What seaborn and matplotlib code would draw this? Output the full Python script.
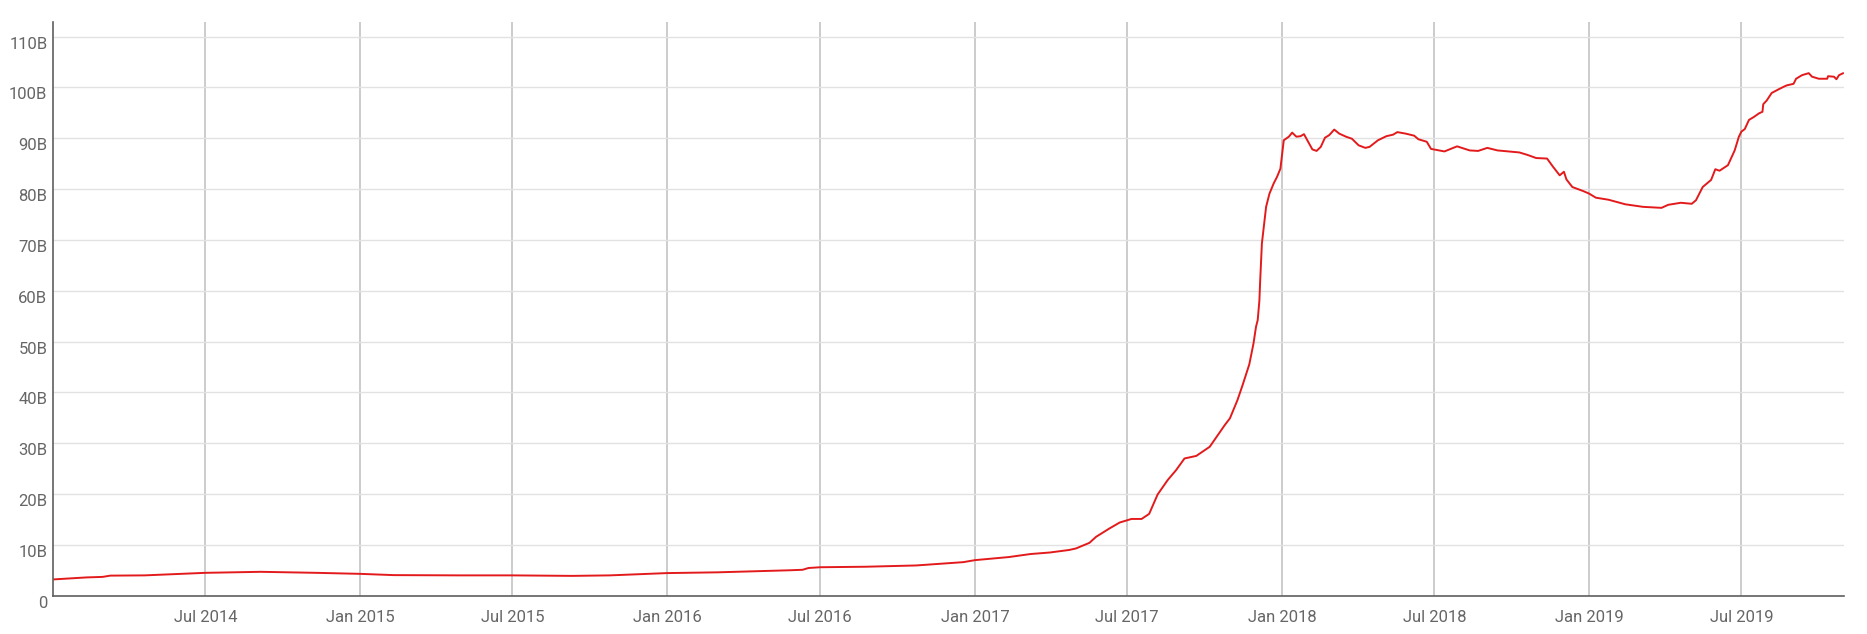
import pandas as pd
import matplotlib
matplotlib.use("Agg")
import matplotlib.pyplot as plt
import matplotlib.transforms as mtransforms
import seaborn as sns

# values (billions)
dates = [
    "2014-01-01", "2014-02-10", "2014-03-01", "2014-03-10", "2014-04-20", "2014-05-25",
    "2014-07-01", "2014-09-05", "2014-11-10", "2015-01-01", "2015-02-10", "2015-05-01",
    "2015-07-01", "2015-09-10", "2015-10-25", "2016-01-01", "2016-03-01", "2016-05-25",
    "2016-06-10", "2016-06-17", "2016-07-01", "2016-08-24", "2016-10-23", "2016-12-18",
    "2017-01-01", "2017-02-10", "2017-03-08", "2017-03-31", "2017-04-23", "2017-05-01",
    "2017-05-17", "2017-05-25", "2017-06-10", "2017-06-22", "2017-07-06", "2017-07-18",
    "2017-07-27", "2017-08-06", "2017-08-18", "2017-08-28", "2017-09-07", "2017-09-21",
    "2017-10-07", "2017-10-25", "2017-10-31", "2017-11-09", "2017-11-15", "2017-11-23",
    "2017-11-28", "2017-12-01", "2017-12-03", "2017-12-05", "2017-12-06", "2017-12-08",
    "2017-12-13", "2017-12-17", "2017-12-22", "2017-12-26", "2017-12-30", "2018-01-03",
    "2018-01-09", "2018-01-13", "2018-01-18", "2018-01-23", "2018-01-27", "2018-01-31",
    "2018-02-06", "2018-02-11", "2018-02-16", "2018-02-21", "2018-02-26", "2018-03-04",
    "2018-03-10", "2018-03-18", "2018-03-25", "2018-04-02", "2018-04-10", "2018-04-15",
    "2018-04-25", "2018-05-05", "2018-05-13", "2018-05-18", "2018-05-28", "2018-06-07",
    "2018-06-12", "2018-06-22", "2018-06-27", "2018-07-13", "2018-07-28", "2018-08-12",
    "2018-08-22", "2018-09-02", "2018-09-14", "2018-10-10", "2018-10-20", "2018-10-30",
    "2018-11-12", "2018-11-19", "2018-11-27", "2018-12-02", "2018-12-05", "2018-12-12",
    "2018-12-25", "2019-01-01", "2019-01-09", "2019-01-24", "2019-02-13", "2019-03-06",
    "2019-03-28", "2019-04-05", "2019-04-20", "2019-05-03", "2019-05-08", "2019-05-16",
    "2019-05-26", "2019-05-31", "2019-06-05", "2019-06-15", "2019-06-23", "2019-06-28",
    "2019-07-01", "2019-07-05", "2019-07-10", "2019-07-16", "2019-07-22", "2019-07-26",
    "2019-07-27", "2019-07-31", "2019-08-06", "2019-08-14", "2019-08-20", "2019-08-24",
    "2019-09-01", "2019-09-04", "2019-09-11", "2019-09-19", "2019-09-23", "2019-10-01",
    "2019-10-11", "2019-10-12", "2019-10-19", "2019-10-22", "2019-10-25", "2019-10-30",
]
values = [
    3.2, 3.6, 3.7, 3.95, 4.0, 4.25,
    4.5, 4.7, 4.5, 4.3, 4.05, 4.0,
    4.0, 3.9, 4.0, 4.45, 4.6, 5.0,
    5.1, 5.45, 5.6, 5.7, 5.95, 6.6,
    7.0, 7.6, 8.2, 8.5, 9.0, 9.3,
    10.4, 11.6, 13.25, 14.4, 15.1, 15.1,
    16.1, 19.9, 22.75, 24.7, 27.0, 27.5,
    29.3, 33.6, 34.9, 38.5, 41.4, 45.5,
    49.6, 52.9, 54.2, 58.0, 62.1, 69.3,
    76.5, 79.1, 81.1, 82.4, 84.0, 89.6,
    90.3, 91.1, 90.3, 90.4, 90.8, 89.6,
    87.8, 87.5, 88.3, 90.1, 90.6, 91.7,
    90.9, 90.3, 89.9, 88.6, 88.1, 88.3,
    89.6, 90.4, 90.7, 91.2, 90.9, 90.5,
    89.8, 89.3, 87.9, 87.4, 88.4, 87.6,
    87.5, 88.1, 87.6, 87.2, 86.7, 86.1,
    86.0, 84.4, 82.7, 83.4, 81.9, 80.4,
    79.6, 79.1, 78.3, 77.9, 77.0, 76.5,
    76.3, 76.9, 77.3, 77.1, 77.8, 80.4,
    81.8, 83.9, 83.6, 84.7, 87.6, 90.3,
    91.3, 91.8, 93.6, 94.2, 94.9, 95.2,
    96.7, 97.4, 98.9, 99.6, 100.1, 100.4,
    100.7, 101.7, 102.4, 102.8, 102.1, 101.7,
    101.7, 102.2, 102.1, 101.6, 102.4, 102.8,
]

tick_dates = ["2014-07-01", "2015-01-01", "2015-07-01", "2016-01-01", "2016-07-01",
              "2017-01-01", "2017-07-01", "2018-01-01", "2018-07-01", "2019-01-01",
              "2019-07-01"]
tick_labels = ["Jul 2014", "Jan 2015", "Jul 2015", "Jan 2016", "Jul 2016", "Jan 2017",
               "Jul 2017", "Jan 2018", "Jul 2018", "Jan 2019", "Jul 2019"]
y_ticks = [0, 10, 20, 30, 40, 50, 60, 70, 80, 90, 100, 110]
y_labels = ["0"] + [f"{v}B" for v in y_ticks[1:]]

df = pd.DataFrame({"date": pd.to_datetime(dates), "value": values})

sns.set_theme(style="white")
plt.rcParams['font.family'] = ['Roboto', 'DejaVu Sans']

fig = plt.figure(figsize=(18.67, 6.34), dpi=100)
ax = fig.add_axes([0.0284, 0.0604, 0.9593, 0.9044])

sns.lineplot(data=df, x="date", y="value", ax=ax, color="#e31a1c", linewidth=1.4)

ax.set_xlim(pd.Timestamp("2014-01-01"), pd.Timestamp("2019-10-31"))
ax.set_ylim(0, 112.8)
ax.set_xticks(pd.to_datetime(tick_dates))
ax.set_xticklabels(tick_labels)
ax.set_yticks(y_ticks)
ax.set_yticklabels(y_labels)
ax.set_xlabel("")
ax.set_ylabel("")

# gridlines: dark-ish verticals, faint horizontals
ax.grid(False)
ax.xaxis.grid(True, color="#c4c4c4", linewidth=1.2)
ax.yaxis.grid(True, color="#e2e2e2", linewidth=1.0)
ax.set_axisbelow(True)

for side in ["top", "right"]:
    ax.spines[side].set_visible(False)
for side in ["left", "bottom"]:
    ax.spines[side].set_color("#5f5f5f")
    ax.spines[side].set_linewidth(1.2)

ax.tick_params(axis="x", length=0, pad=10, labelsize=12, labelcolor="#666666")
ax.tick_params(axis="y", length=0, pad=4, labelsize=12, labelcolor="#666666")

# y labels sit a little below their gridlines
offset = mtransforms.ScaledTranslation(0, -0.06, fig.dpi_scale_trans)
for lab in ax.get_yticklabels():
    lab.set_transform(lab.get_transform() + offset)

fig.savefig("out.png", dpi=100)
